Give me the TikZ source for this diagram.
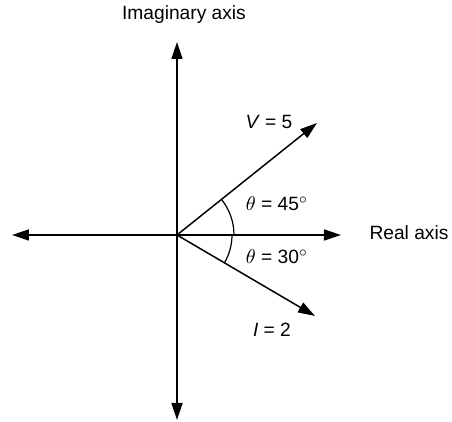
\documentclass[tikz,border=0pt]{standalone}
\usepackage{fontspec}
\setmainfont{Liberation Sans}
\usetikzlibrary{arrows.meta}

\begin{document}
\begin{tikzpicture}[x=0.5pt,y=0.5pt,font=\fontsize{9.6}{11}\selectfont,>={Triangle[length=8.5pt,width=5.5pt]}]
  \tikzset{axis/.style={->,line width=0.75pt},phasor/.style={->,line width=0.75pt},angarc/.style={line width=0.6pt}}
  \useasboundingbox (-177,-187) rectangle (275,235);

  \coordinate (origin) at (0,0);
  \coordinate (left) at (-165,0);
  \coordinate (right) at (164,0);
  \coordinate (top) at (0,193);
  \coordinate (bottom) at (0,-185);
  \coordinate (vtip) at (140,112);
  \coordinate (itip) at (138,-81);

  \draw[axis] (origin) -- (left);
  \draw[axis] (origin) -- (right);
  \draw[axis] (origin) -- (top);
  \draw[axis] (origin) -- (bottom);

  \draw[phasor] (origin) -- (vtip);
  \draw[phasor] (origin) -- (itip);

  \draw[angarc] (57,0) arc[start angle=0,end angle=38.7,radius=57];
  \draw[angarc] (55,0) arc[start angle=0,end angle=-30.4,radius=55];

  \node (imag) at (7,220) {Imaginary axis};
  \node (real) at (232,2) {Real axis};
  \node (vlabel) at (92,113) {\textit{V} = 5};
  \node (ilabel) at (95,-95) {\textit{I} = 2};
  \node (upperang) at (100,31) {$\theta$ = 45$^\circ$};
  \node (lowerang) at (100,-22) {$\theta$ = 30$^\circ$};
\end{tikzpicture}
\end{document}
